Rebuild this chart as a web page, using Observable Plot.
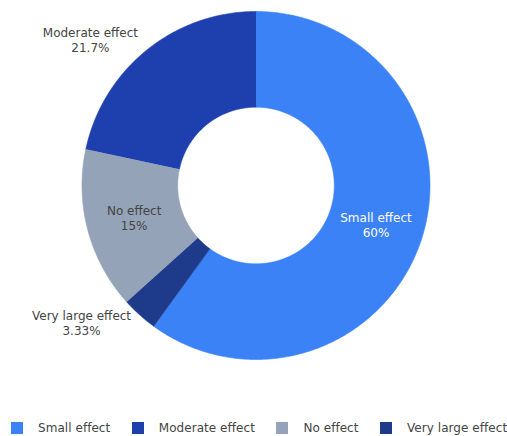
<!DOCTYPE html>
<html>
<head>
<meta charset="utf-8">
<script src="https://cdn.jsdelivr.net/npm/d3@7"></script>
<script src="https://cdn.jsdelivr.net/npm/@observablehq/plot@0.6"></script>
<style>
  html, body { margin: 0; padding: 0; background: #fff; }
  body { width: 507px; height: 436px; overflow: hidden; font-family: "DejaVu Sans", Verdana, sans-serif; }
  #legend { display: flex; align-items: center; height: 26px; margin-top: 5px; padding-left: 11px; font-size: 12px; color: #444; white-space: nowrap; letter-spacing: 0.05px; }
  #legend .item { display: flex; align-items: center; margin-right: 21.5px; }
  #legend .sw { width: 12px; height: 12px; margin-right: 15px; flex: none; }
</style>
</head>
<body>
<div id="chart"></div>
<div id="legend"></div>
<script>
// ---- data ----
const categories = ["Small effect", "Moderate effect", "No effect", "Very large effect"];
const counts = [36, 13, 9, 2];
const colors = ["#3B82F6", "#1E40AF", "#94A3B8", "#1E3A8A"];
const outsideLabels = ["Moderate effect", "Very large effect"];

// ---- layout ----
const W = 507, H = 410;
const cx = 255.5, cy = 185, R = 174;
const hole = 0.45;
const fontFamily = "DejaVu Sans, Verdana, sans-serif";
const fontSize = 12;

const total = d3.sum(counts);
const fmt = d3.format(".3~r");
const rows = categories.map((c, i) => ({cat: c, value: counts[i], color: colors[i], pct: counts[i] / total * 100}));

// counterclockwise, largest slice ending at 12 o'clock
const start = 2 * Math.PI * rows[0].value / total;
const arcs = d3.pie().sort(null).value(d => d.value).startAngle(start).endAngle(start - 2 * Math.PI)(rows);

// ring polygons
const pts = [];
const step = Math.PI / 360;
for (const a of arcs) {
  const a0 = a.startAngle, a1 = a.endAngle;
  const n = Math.max(2, Math.ceil(Math.abs(a1 - a0) / step));
  for (let k = 0; k <= n; k++) {
    const t = a0 + (a1 - a0) * k / n;
    pts.push({cat: a.data.cat, x: Math.sin(t), y: Math.cos(t)});
  }
  for (let k = n; k >= 0; k--) {
    const t = a0 + (a1 - a0) * k / n;
    pts.push({cat: a.data.cat, x: hole * Math.sin(t), y: hole * Math.cos(t)});
  }
}

// text measurement
const ctx = document.createElement("canvas").getContext("2d");
ctx.font = `${fontSize}px ${fontFamily}`;
const measure = s => d3.max(s.split("\n"), l => ctx.measureText(l).width);

const inside = [], outsideUp = [], outsideDown = [];
for (const a of arcs) {
  const mid = (a.startAngle + a.endAngle) / 2;
  const text = `${a.data.cat}\n${fmt(a.data.pct)}%`;
  if (outsideLabels.includes(a.data.cat)) {
    const x = Math.sin(mid), y = Math.cos(mid);
    const w = measure(text);
    const side = x < 0 ? -1 : 1;
    const d = {x: x + side * (w / 2 + 8.5) / R, y, text};
    (y >= 0 ? outsideUp : outsideDown).push(d);
  } else {
    const r = (1 + hole) / 2;
    const lab = d3.lab(a.data.color);
    inside.push({x: r * Math.sin(mid), y: r * Math.cos(mid), text, fill: lab.l < 60 ? "#fff" : "#444"});
  }
}

const chart = Plot.plot({
  width: W,
  height: H,
  margin: 0,
  style: {fontFamily, fontSize: fontSize + "px", color: "#444", background: "#fff"},
  x: {domain: [-cx / R, (W - cx) / R], range: [0, W], axis: null},
  y: {domain: [-(H - cy) / R, cy / R], range: [H, 0], axis: null},
  color: {domain: categories, range: colors},
  marks: [
    Plot.line(pts, {x: "x", y: "y", z: "cat", fill: "cat", stroke: "cat", strokeWidth: 0.6, curve: "linear"}),
    Plot.text(inside, {x: "x", y: "y", text: "text", fill: "fill", lineAnchor: "middle", textAnchor: "middle", lineHeight: 1.25, fontSize}),
    Plot.text(outsideUp, {x: "x", y: "y", text: "text", fill: "#444", lineAnchor: "bottom", textAnchor: "middle", lineHeight: 1.25, dy: 2, fontSize}),
    Plot.text(outsideDown, {x: "x", y: "y", text: "text", fill: "#444", lineAnchor: "top", textAnchor: "middle", lineHeight: 1.25, dy: -5, fontSize})
  ]
});
document.getElementById("chart").appendChild(chart);

// legend (sorted by value, as in the reference)
const legend = d3.select("#legend");
for (const r of rows) {
  const it = legend.append("div").attr("class", "item");
  it.append("div").attr("class", "sw").style("background", r.color);
  it.append("span").text(r.cat);
}
</script>
</body>
</html>
